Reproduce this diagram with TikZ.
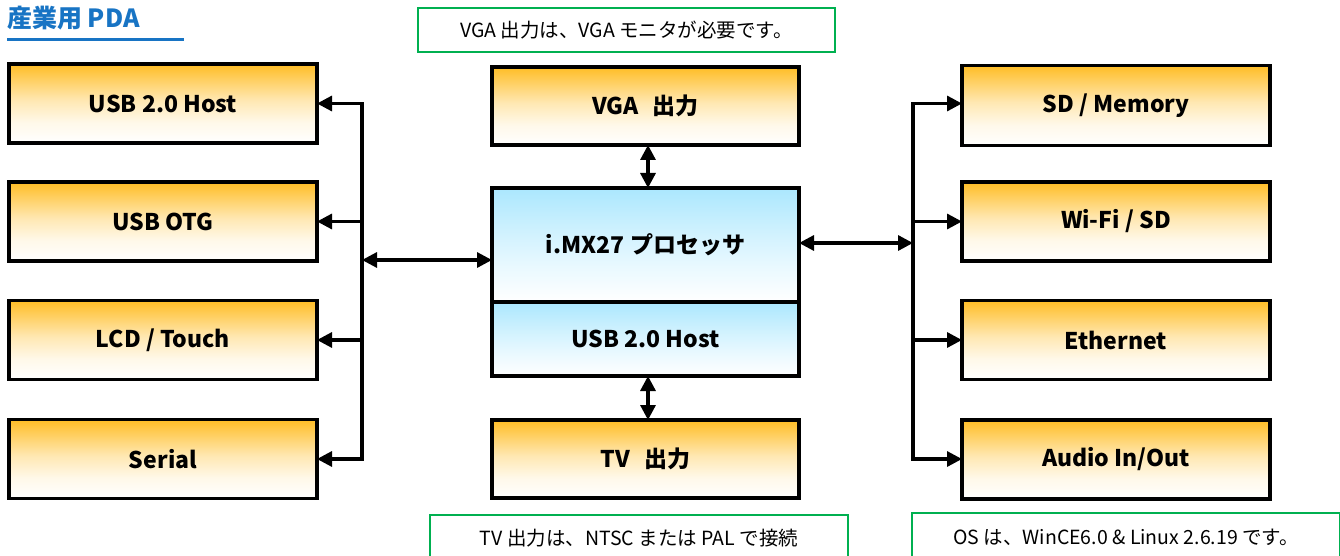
\documentclass[tikz,border=0pt]{standalone}
\usepackage{fontspec}
\setmainfont{Noto Sans CJK JP}
\usetikzlibrary{arrows.meta}
\definecolor{orgtop}{HTML}{FFBD25}
\definecolor{blutop}{HTML}{ABE7FE}
\definecolor{notegreen}{HTML}{00B050}
\definecolor{titleblue}{HTML}{1874C4}
\pgfdeclareverticalshading{orgshade}{100bp}{color(0bp)=(white); color(25bp)=(white); color(38bp)=(orgtop!10!white); color(52bp)=(orgtop!35!white); color(75bp)=(orgtop); color(100bp)=(orgtop)}
\pgfdeclareverticalshading{blushade}{100bp}{color(0bp)=(white); color(25bp)=(white); color(40bp)=(blutop!25!white); color(55bp)=(blutop!55!white); color(75bp)=(blutop); color(100bp)=(blutop)}
\tikzset{
  blk/.style={draw=black, line width=3.2pt, shading=orgshade,
    minimum width=308pt, minimum height=79pt, inner sep=0pt, outer sep=0pt,
    font=\bfseries\fontsize{23}{23}\selectfont},
  cpublk/.style={blk, shading=blushade},
  note/.style={draw=notegreen, line width=2pt, fill=white, inner sep=0pt, outer sep=0pt,
    font=\fontsize{19.5}{19.5}\selectfont},
  link/.style={line width=3.2pt, -{Triangle[length=15pt,width=15pt]}},
  blink/.style={line width=3.2pt, {Triangle[length=15pt,width=15pt]}-{Triangle[length=15pt,width=15pt]}},
  bus/.style={line width=3.2pt, line cap=rect},
}
\begin{document}
\begin{tikzpicture}[x=1pt,y=-1pt]
\useasboundingbox (0,0) rectangle (1340,556);
\clip (0,0) rectangle (1340,556);
% title
\node[anchor=west, inner sep=0pt, text=titleblue, font=\bfseries\fontsize{25}{25}\selectfont] (title) at (7,18) {産業用 PDA};
\draw[line width=3pt, titleblue] (7,40) -- (184,40);
% left boxes
\node[blk, minimum height=79pt] (l1) at (163,103.5) {USB 2.0 Host};
\node[blk, minimum height=79pt] (l2) at (163,221.5) {USB OTG};
\node[blk, minimum height=79pt] (l3) at (163,340) {LCD / Touch};
\node[blk, minimum height=79pt] (l4) at (163,459) {Serial};
% right boxes
\node[blk, minimum height=80pt] (r1) at (1116,105.5) {SD / Memory};
\node[blk, minimum height=79pt] (r2) at (1116,221.5) {Wi-Fi / SD};
\node[blk, minimum height=79pt] (r3) at (1116,340) {Ethernet};
\node[blk, minimum height=79pt] (r4) at (1116,459.5) {Audio In/Out};
% center
\node[blk, minimum width=307pt, minimum height=78pt] (vga) at (645.5,106) {VGA\hspace{0.6em}出力};
\node[cpublk, minimum width=307pt, minimum height=114pt] (cpu) at (645.5,245) {i.MX27 プロセッサ};
\node[cpublk, minimum width=307pt, minimum height=74pt] (usb) at (645.5,339) {USB 2.0 Host};
\node[blk, minimum width=307pt, minimum height=78pt] (tv) at (645.5,459) {TV\hspace{0.6em}出力};
% notes
\node[note, minimum width=417pt, minimum height=44pt] (n1) at (626.5,30) {VGA 出力は、VGA モニタが必要です。};
\node[note, minimum width=418pt, minimum height=46pt] (n2) at (639,538) {TV 出力は、NTSC または PAL で接続};
\node[note, minimum width=428pt, minimum height=48pt] (n3) at (1126,537) {OS は、WinCE6.0 \& Linux 2.6.19 です。};
% left bus
\coordinate (lb1) at (362,103.5);
\coordinate (lb2) at (362,221.5);
\coordinate (lb3) at (362,340);
\coordinate (lb4) at (362,459);
\coordinate (lbc) at (362,260);
\draw[bus] (lb1) -- (lb4);
\draw[link] (lb1) -- (l1.east);
\draw[link] (lb2) -- (l2.east);
\draw[link] (lb3) -- (l3.east);
\draw[link] (lb4) -- (l4.east);
\draw[blink] (lbc) -- (lbc -| cpu.west);
% right bus
\coordinate (rb1) at (913,103.5);
\coordinate (rb2) at (913,221.5);
\coordinate (rb3) at (913,340);
\coordinate (rb4) at (913,459);
\coordinate (rbc) at (913,243);
\draw[bus] (rb1) -- (rb4);
\draw[link] (rb1) -- (rb1 -| r1.west);
\draw[link] (rb2) -- (r2.west);
\draw[link] (rb3) -- (r3.west);
\draw[link] (rb4) -- (rb4 -| r4.west);
\draw[blink] (rbc -| cpu.east) -- (rbc);
% vertical
\draw[blink] ([xshift=2.5pt]vga.south) -- ([xshift=2.5pt]cpu.north);
\draw[blink] ([xshift=2.5pt]usb.south) -- ([xshift=2.5pt]tv.north);
\end{tikzpicture}
\end{document}
